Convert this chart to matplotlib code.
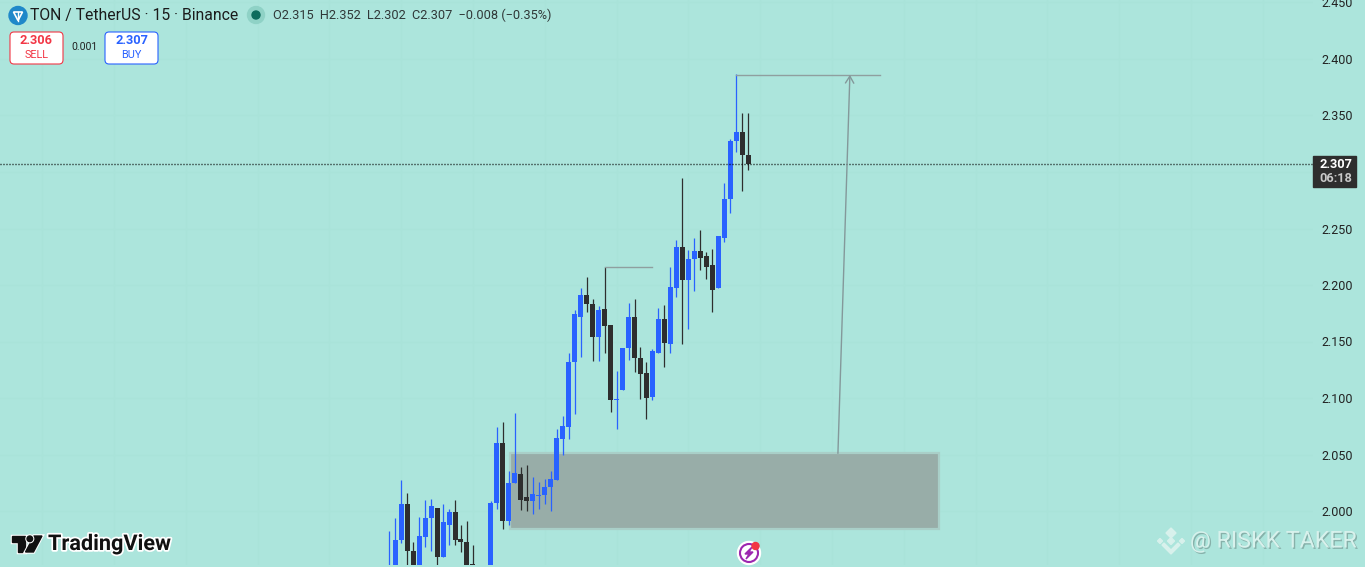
import matplotlib
matplotlib.use("Agg")
import matplotlib.pyplot as plt
import matplotlib.patheffects as pe
from matplotlib.patches import Circle, FancyBboxPatch, Polygon, Rectangle

plt.rcParams['font.family'] = ['Roboto', 'DejaVu Sans']

# ---- data (prices) ----
opens = [1.930,1.940,1.974,2.006,1.965,1.940,1.977,1.994,2.003,1.959,1.988,1.999,1.975,1.973,1.953,1.930,1.935,1.930,
         2.007,2.060,1.991,2.025,2.033,2.012,2.009,2.013,2.014,2.021,2.027,2.064,2.074,2.132,2.172,2.191,2.183,2.154,
         2.179,2.165,2.098,2.107,2.144,2.172,2.135,2.122,2.101,2.140,2.170,2.148,2.197,2.234,2.204,2.223,2.230,2.226,
         2.218,2.197,2.242,2.276,2.327,2.335,2.315]
highs = [1.982,1.994,2.027,2.016,1.973,1.995,2.010,2.011,2.003,2.006,2.002,2.010,1.988,1.991,1.970,1.948,1.950,2.009,
         2.074,2.079,2.035,2.087,2.039,2.041,2.030,2.026,2.028,2.035,2.073,2.084,2.140,2.178,2.197,2.207,2.188,2.181,
         2.216,2.165,2.124,2.144,2.184,2.188,2.145,2.132,2.143,2.180,2.182,2.216,2.240,2.295,2.231,2.242,2.249,2.229,
         2.232,2.243,2.290,2.329,2.387,2.352,2.352]
lows =  [1.920,1.930,1.972,1.940,1.930,1.930,1.968,1.965,1.940,1.959,1.970,1.970,1.964,1.930,1.940,1.925,1.925,1.920,
         2.002,1.984,1.988,2.025,2.001,2.000,1.997,2.002,2.006,2.000,2.027,2.050,2.064,2.086,2.136,2.176,2.133,2.133,
         2.140,2.088,2.073,2.107,2.134,2.123,2.099,2.081,2.098,2.140,2.127,2.140,2.189,2.148,2.161,2.195,2.213,2.205,
         2.176,2.197,2.238,2.264,2.318,2.283,2.302]
closes =[1.945,1.974,2.006,1.965,1.940,1.978,1.994,2.004,1.959,1.990,1.999,1.974,1.973,1.950,1.945,1.945,1.948,2.007,
         2.060,1.991,2.025,2.034,2.010,2.009,2.015,2.014,2.021,2.028,2.065,2.075,2.132,2.174,2.191,2.183,2.154,2.178,
         2.164,2.098,2.098,2.144,2.172,2.135,2.121,2.100,2.142,2.170,2.149,2.198,2.234,2.204,2.223,2.230,2.224,2.216,
         2.196,2.243,2.276,2.327,2.335,2.315,2.307]
bar_index = list(range(len(opens)))
price_ticks = [2.000,2.050,2.100,2.150,2.200,2.250,2.300,2.350,2.400,2.450]
hidden_tick = 2.300   # sits behind the last-price tag in the reference
last_price = 2.307
header_ohlc = "O2.315  H2.352  L2.302  C2.307  \u22120.008 (\u22120.35%)"

BG = '#ace5dc'; BLUE = '#2962ff'; DARK = '#2e2e2e'; GRID = '#a9e3d9'

W, H = 1365, 567
fig = plt.figure(figsize=(W/100, H/100), dpi=100, facecolor=BG)

# ---- price pane ----
PANE_W, PANE_H = 1313, 565
ax = fig.add_axes([0, (H-PANE_H)/H, PANE_W/W, PANE_H/H], facecolor=BG)
X0, STEP = 389.2, 5.983
ax.set_xlim(-X0/STEP, (PANE_W-X0)/STEP)
ax.set_ylim(2-54/1130, 2+511/1130)
for s in ax.spines.values():
    s.set_visible(False)
ax.set_xticks([2+12*k for k in range(-5, 13)])
ax.set_yticks(price_ticks)
ax.set_yticklabels(["" if p == hidden_tick else f"{p:.3f}" for p in price_ticks])
ax.yaxis.tick_right()
ax.tick_params(axis='y', length=0, pad=6, labelsize=9, labelcolor='#222222')
ax.tick_params(axis='x', length=0, labelbottom=False)
ax.grid(True, color=GRID, lw=0.8, zorder=0)
ax.set_axisbelow(True)

# demand zone
ax.add_patch(Rectangle((20.17, 1.984), 71.7, 0.067, facecolor='#98ada8',
                       edgecolor='#a9cfc8', lw=1.6, zorder=1.5))

# candles
colors = [BLUE if c >= o else DARK for o, c in zip(opens, closes)]
ax.vlines(bar_index, lows, highs, colors=colors, lw=0.9, zorder=3)
bottoms = [min(o, c) for o, c in zip(opens, closes)]
heights = [max(abs(c-o), 0.001) for o, c in zip(opens, closes)]
ax.bar(bar_index, heights, bottom=bottoms, width=5/STEP, color=colors, lw=0, zorder=4)

# last price line
ax.axhline(last_price, color='#000000', lw=1.0, ls=(0, (0.72, 1.44)), zorder=5)

# drawings
ax.plot([36.05, 44], [2.216, 2.216], color='#8f9f9f', lw=1, zorder=5)
ax.plot([57.95, 82], [2.386, 2.386], color='#8f9f9f', lw=1, zorder=5)
ax.annotate("", xy=(77, 2.386), xytext=(75, 2.051), zorder=5,
            arrowprops=dict(arrowstyle='->,head_length=0.5,head_width=0.3', color='#84989a',
                            lw=1, shrinkA=0, shrinkB=0))

# ---- interface overlay in pixel coordinates ----
ov = fig.add_axes([0, 0, 1, 1], facecolor='none')
ov.set_xlim(0, W); ov.set_ylim(H, 0); ov.axis('off')

# TON logo
ov.add_patch(Circle((18, 15.5), 9, color='#1f88c9', zorder=2))
ov.add_patch(Polygon([(13.5, 12), (22.5, 12), (18, 20.5)], closed=True, fill=False, ec='white', lw=1.2, zorder=3))
ov.plot([18, 18], [12, 20.5], color='white', lw=1, zorder=3)

ov.text(30.5, 15.5, "TON / TetherUS \u00b7 15 \u00b7 Binance", fontsize=11.3, color='#1b1b1b', va='center', ha='left')
ov.add_patch(Circle((256, 15), 8.5, color='#8fd2c6', zorder=2))
ov.add_patch(Circle((256, 15), 4, color='#0c6b5c', zorder=3))
ov.text(273, 15.5, header_ohlc, fontsize=9.2, color='#303838', va='center', ha='left')

# sell / buy
ov.add_patch(FancyBboxPatch((10, 32), 53, 32, boxstyle='round,pad=0,rounding_size=4',
                            fc='white', ec='#f23645', lw=0.8))
ov.text(36.5, 41, "2.306", fontsize=9.2, fontweight='bold', color='#f23645', ha='center', va='center')
ov.text(36.5, 55.5, "SELL", fontsize=7.8, color='#f23645', ha='center', va='center')
ov.text(84, 47.5, "0.001", fontsize=7.6, color='#222222', ha='center', va='center')
ov.add_patch(FancyBboxPatch((105, 32), 53, 32, boxstyle='round,pad=0,rounding_size=4',
                            fc='white', ec=BLUE, lw=0.8))
ov.text(131.5, 41, "2.307", fontsize=9.2, fontweight='bold', color=BLUE, ha='center', va='center')
ov.text(131.5, 55.5, "BUY", fontsize=7.8, color=BLUE, ha='center', va='center')

# last price tag
ov.add_patch(Rectangle((1313, 156), 43, 31, color=DARK, zorder=6))
ov.text(1336, 164.5, "2.307", fontsize=9.2, fontweight='bold', color='white', ha='center', va='center', zorder=7)
ov.text(1336, 178.5, "06:18", fontsize=9.2, fontweight='bold', color='#c8c8c8', ha='center', va='center', zorder=7)

# TradingView logo
halo = [pe.withStroke(linewidth=2.5, foreground='white')]
for pts in ([(11.5, 536), (25, 536), (25, 552), (18, 552), (18, 541.5), (11.5, 541.5)],
            [(34, 536), (42, 536), (33.5, 552), (25.5, 552)]):
    ov.add_patch(Polygon(pts, closed=True, color='#111111', path_effects=halo, zorder=4))
ov.add_patch(Circle((29.8, 538.8), 2.8, color='#111111', path_effects=halo, zorder=4))
ov.text(48, 544, "TradingView", fontsize=15.6, fontweight='bold', color='#111111', ha='left', va='center',
        path_effects=halo, zorder=5)

# alert icon
ov.add_patch(Circle((749, 553), 11.5, color='white', zorder=4))
ov.add_patch(Circle((749, 553), 9, fc='white', ec='#9c27b0', lw=1.5, zorder=5))
ov.add_patch(Polygon([(752, 547), (745, 554), (749, 554), (746, 559), (753, 552), (749, 552)],
                     closed=True, color='#9c27b0', zorder=6))
ov.add_patch(Circle((755.5, 546), 3.5, color='#f23645', zorder=7))

# watermark
wm = [pe.withSimplePatchShadow(offset=(1, -1), shadow_rgbFace='#6f8f8a', alpha=0.6)]
WM = '#d8f1ec'
ov.text(1190, 541, "@ RISKK TAKER", fontsize=16.7, color=WM, ha='left', va='center', path_effects=wm, zorder=5)
cx, cy = 1171, 541
for dx, dy, r in [(0, -8, 5), (0, 0, 3.5), (-11, 0, 2.5), (11, 0, 2.5)]:
    ov.add_patch(Polygon([(cx+dx, cy+dy-r), (cx+dx+r, cy+dy), (cx+dx, cy+dy+r), (cx+dx-r, cy+dy)],
                         closed=True, color=WM, zorder=5))
ov.add_patch(Polygon([(cx-9, cy+4), (cx, cy+13), (cx+9, cy+4), (cx+7, cy+2), (cx, cy+9), (cx-7, cy+2)],
                     closed=True, color=WM, zorder=5))

fig.savefig("out.png", dpi=100, facecolor=BG)
